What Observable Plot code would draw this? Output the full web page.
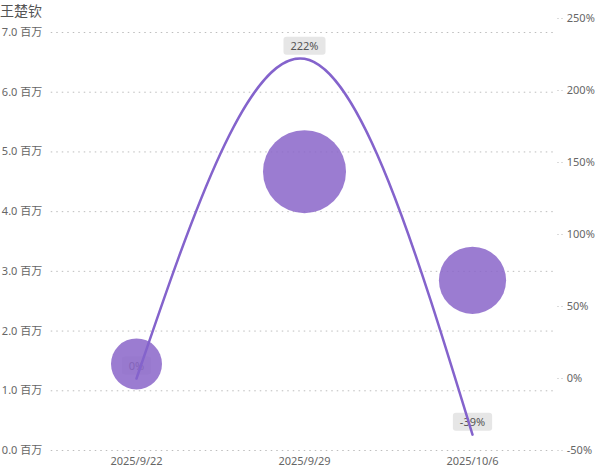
<!DOCTYPE html>
<html>
<head>
<meta charset="utf-8">
<script src="https://cdn.jsdelivr.net/npm/d3@7"></script>
<script src="https://cdn.jsdelivr.net/npm/@observablehq/plot@0.6"></script>
<style>
  body { margin: 0; background: #fff; font-family: "Segoe UI", "Noto Sans", "Noto Sans CJK SC", sans-serif; }
  #wrap { position: relative; width: 606px; height: 471px; }
  #title { position: absolute; left: 0; top: 1px; font-size: 14px; color: #555; font-family: "Noto Sans CJK SC", sans-serif; line-height: 18px; }
</style>
</head>
<body>
<div id="wrap"><div id="title">王楚钦</div></div>
<script>
const dates = ["2025/9/22", "2025/9/29", "2025/10/6"];
const plays = [1.45, 4.67, 2.85];          // 百万
const changes = [0, 222, -39];             // %
const leftTicks = [0, 1, 2, 3, 4, 5, 6, 7];
const rightTicks = [-50, 0, 50, 100, 150, 200, 250];

const PCT_MIN = -50, PCT_MAX = 250;
const Y_MAX = 7 * 432 / 418;               // left-axis value at top of right axis
const toY = p => (p - PCT_MIN) / (PCT_MAX - PCT_MIN) * Y_MAX;
const fromY = y => Math.round(y / Y_MAX * (PCT_MAX - PCT_MIN) + PCT_MIN);

const data = dates.map((d, i) => ({date: d, plays: plays[i], change: changes[i]}));

const chart = Plot.plot({
  width: 606,
  height: 471,
  marginLeft: 50.75,
  marginRight: 49.75,
  marginTop: 18,
  marginBottom: 21,
  style: {fontFamily: '"Segoe UI", "Noto Sans", "Noto Sans CJK SC", sans-serif', fontSize: "11px", color: "#666", background: "#fff"},
  x: {type: "point", domain: dates, padding: 0.5, label: null},
  y: {domain: [0, Y_MAX], label: null},
  r: {type: "sqrt", domain: d3.extent(plays), range: [25.5, 41.5]},
  marks: [
    Plot.gridY(leftTicks, {stroke: "#bdbdbd", strokeOpacity: 1, strokeDasharray: "1.5,4"}),
    Plot.axisY(leftTicks, {anchor: "left", tickSize: 0, tickPadding: 9, tickFormat: d => d.toFixed(1) + " 百万", label: null}),
    Plot.axisY(rightTicks.map(toY), {anchor: "right", tickSize: 6, tickPadding: 4, stroke: "#d0d0d0", strokeDasharray: "1.5,2.5", tickFormat: d => fromY(d) + "%", label: null}),
    Plot.axisX({tickSize: 0, tickPadding: 7, label: null}),
    Plot.text(data, {x: "date", y: d => toY(d.change), text: d => d.change + "%", dy: -12, fill: "#555", fontSize: 11}),
    Plot.dot(data, {x: "date", y: "plays", r: "plays", fill: "#8a66c9", fillOpacity: 0.86, stroke: "none"}),
    Plot.line(data, {x: "date", y: d => toY(d.change), curve: "natural", stroke: "#8463cc", strokeWidth: 2.5})
  ]
});

document.getElementById("wrap").prepend(chart);

// rounded grey boxes behind the value labels
d3.select(chart).selectAll('g[aria-label="text"] text').each(function() {
  const b = this.getBBox();
  d3.select(this.parentNode).insert("rect", () => this)
    .attr("x", b.x - 7).attr("y", b.y - 1.5)
    .attr("width", b.width + 14).attr("height", b.height + 3)
    .attr("rx", 3).attr("fill", "#e6e6e6")
    .attr("transform", this.getAttribute("transform"));
});
</script>
</body>
</html>
